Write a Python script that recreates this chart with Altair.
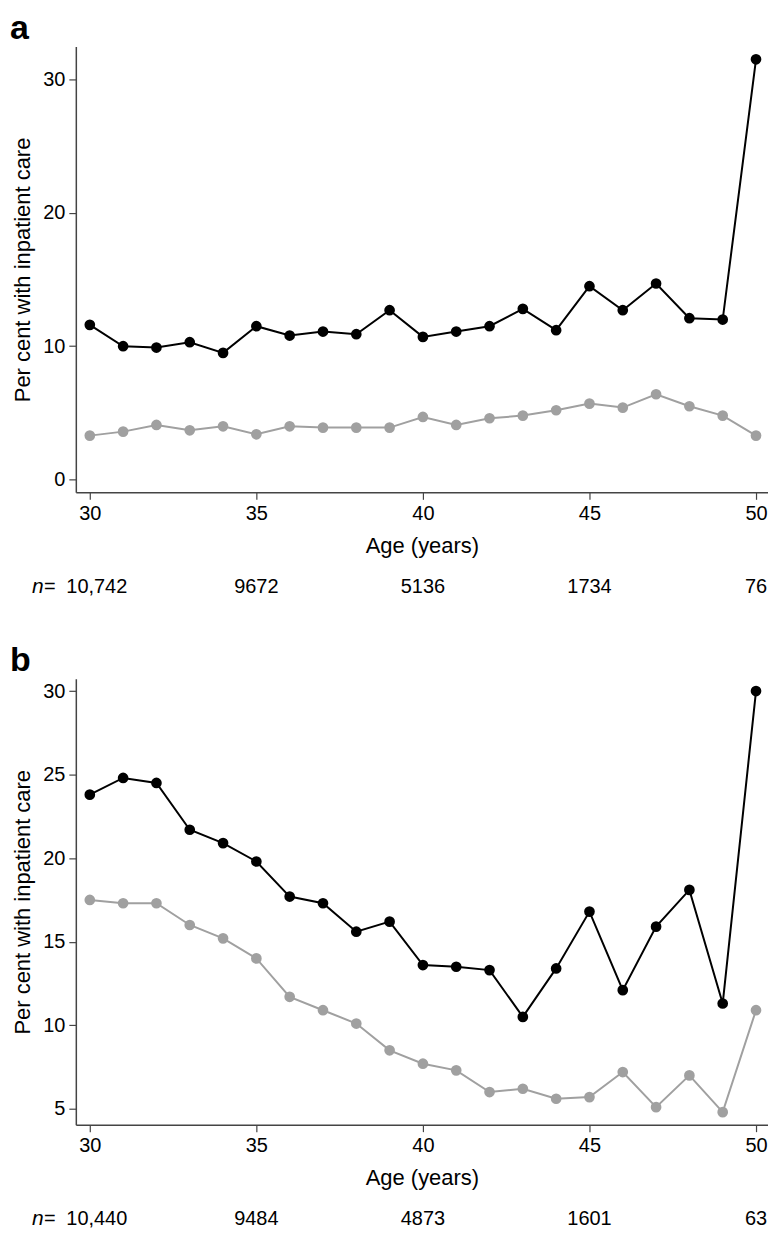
import altair as alt
import pandas as pd

ages = list(range(30, 51))

a_black = [11.6, 10.0, 9.9, 10.3, 9.5, 11.5, 10.8, 11.1, 10.9, 12.7, 10.7,
           11.1, 11.5, 12.8, 11.2, 14.5, 12.7, 14.7, 12.1, 12.0, 31.5]
a_gray = [3.3, 3.6, 4.1, 3.7, 4.0, 3.4, 4.0, 3.9, 3.9, 3.9, 4.7,
          4.1, 4.6, 4.8, 5.2, 5.7, 5.4, 6.4, 5.5, 4.8, 3.3]

b_black = [23.8, 24.8, 24.5, 21.7, 20.9, 19.8, 17.7, 17.3, 15.6, 16.2, 13.6,
           13.5, 13.3, 10.5, 13.4, 16.8, 12.1, 15.9, 18.1, 11.3, 30.0]
b_gray = [17.5, 17.3, 17.3, 16.0, 15.2, 14.0, 11.7, 10.9, 10.1, 8.5, 7.7,
          7.3, 6.0, 6.2, 5.6, 5.7, 7.2, 5.1, 7.0, 4.8, 10.9]

n_ages = [30, 35, 40, 45, 50]
a_n = ["10,742", "9672", "5136", "1734", "76"]
b_n = ["10,440", "9484", "4873", "1601", "63"]

a_yticks = [0, 10, 20, 30]
b_yticks = [5, 10, 15, 20, 25, 30]

FONT = "Liberation Sans"
W, H = 694, 447


def panel(letter, black, gray, ydomain, yticks, nlabels):
    df = pd.DataFrame({
        "age": ages + ages,
        "value": black + gray,
        "series": ["high"] * len(ages) + ["low"] * len(ages),
    })
    x = alt.X("age:Q",
              scale=alt.Scale(domain=[29.58, 50.36], nice=False, zero=False),
              axis=alt.Axis(values=n_ages, title="Age (years)", format="d"))
    y = alt.Y("value:Q",
              scale=alt.Scale(domain=ydomain, nice=False, zero=False),
              axis=alt.Axis(values=yticks, title="Per cent with inpatient care", format="d"))
    color = alt.Color("series:N",
                      scale=alt.Scale(domain=["low", "high"], range=["#a0a0a0", "#000000"]),
                      legend=None)
    lines = alt.Chart(df).mark_line(strokeWidth=2).encode(x=x, y=y, color=color, order="age:Q")
    pts = alt.Chart(df).mark_circle(size=115, opacity=1).encode(x=x, y=y, color=color)

    ndf = pd.DataFrame({"age": n_ages[1:], "label": nlabels[1:]})
    ntext = alt.Chart(ndf).mark_text(font=FONT, fontSize=20, baseline="middle", align="center").encode(
        x=alt.X("age:Q"), y=alt.value(H + 95), text="label:N")
    first = alt.Chart(pd.DataFrame({"age": n_ages[:1], "label": nlabels[:1]})).mark_text(
        font=FONT, fontSize=20, baseline="middle", align="center", dx=7).encode(
        x=alt.X("age:Q"), y=alt.value(H + 95), text="label:N")
    nlab = alt.Chart(pd.DataFrame({"t": ["n"]})).mark_text(
        font=FONT, fontSize=21, fontStyle="italic", baseline="middle", align="left").encode(
        x=alt.value(-44), y=alt.value(H + 95), text="t:N")
    eq = alt.Chart(pd.DataFrame({"t": ["="]})).mark_text(
        font=FONT, fontSize=20, baseline="middle", align="left").encode(
        x=alt.value(-32), y=alt.value(H + 95), text="t:N")
    let = alt.Chart(pd.DataFrame({"t": [letter]})).mark_text(
        font=FONT, fontSize=34, fontWeight="bold", baseline="top", align="left").encode(
        x=alt.value(-66), y=alt.value(-35), text="t:N")

    return alt.layer(lines, pts, ntext, first, nlab, eq, let).properties(width=W, height=H)


pa = panel("a", a_black, a_gray, [-0.95, 32.46], a_yticks, a_n)
pb = panel("b", b_black, b_gray, [4.05, 30.73], b_yticks, b_n)

chart = alt.vconcat(pa, pb, spacing=47).properties(
    padding={"left": 2, "top": 2, "right": 0, "bottom": 0}
).configure_view(
    stroke=None
).configure_axis(
    grid=False,
    domainColor="#444444",
    domainWidth=1.5,
    tickColor="#444444",
    tickWidth=1.2,
    tickSize=7,
    labelFont=FONT,
    labelFontSize=20,
    labelColor="#000000",
    labelPadding=4,
    titleFont=FONT,
    titleFontSize=22,
    titleFontWeight="normal",
    titleColor="#000000",
).configure_axisX(titlePadding=12).configure_axisY(titlePadding=8)

chart.save("out.html", embed_options={"renderer": "svg", "actions": False})
